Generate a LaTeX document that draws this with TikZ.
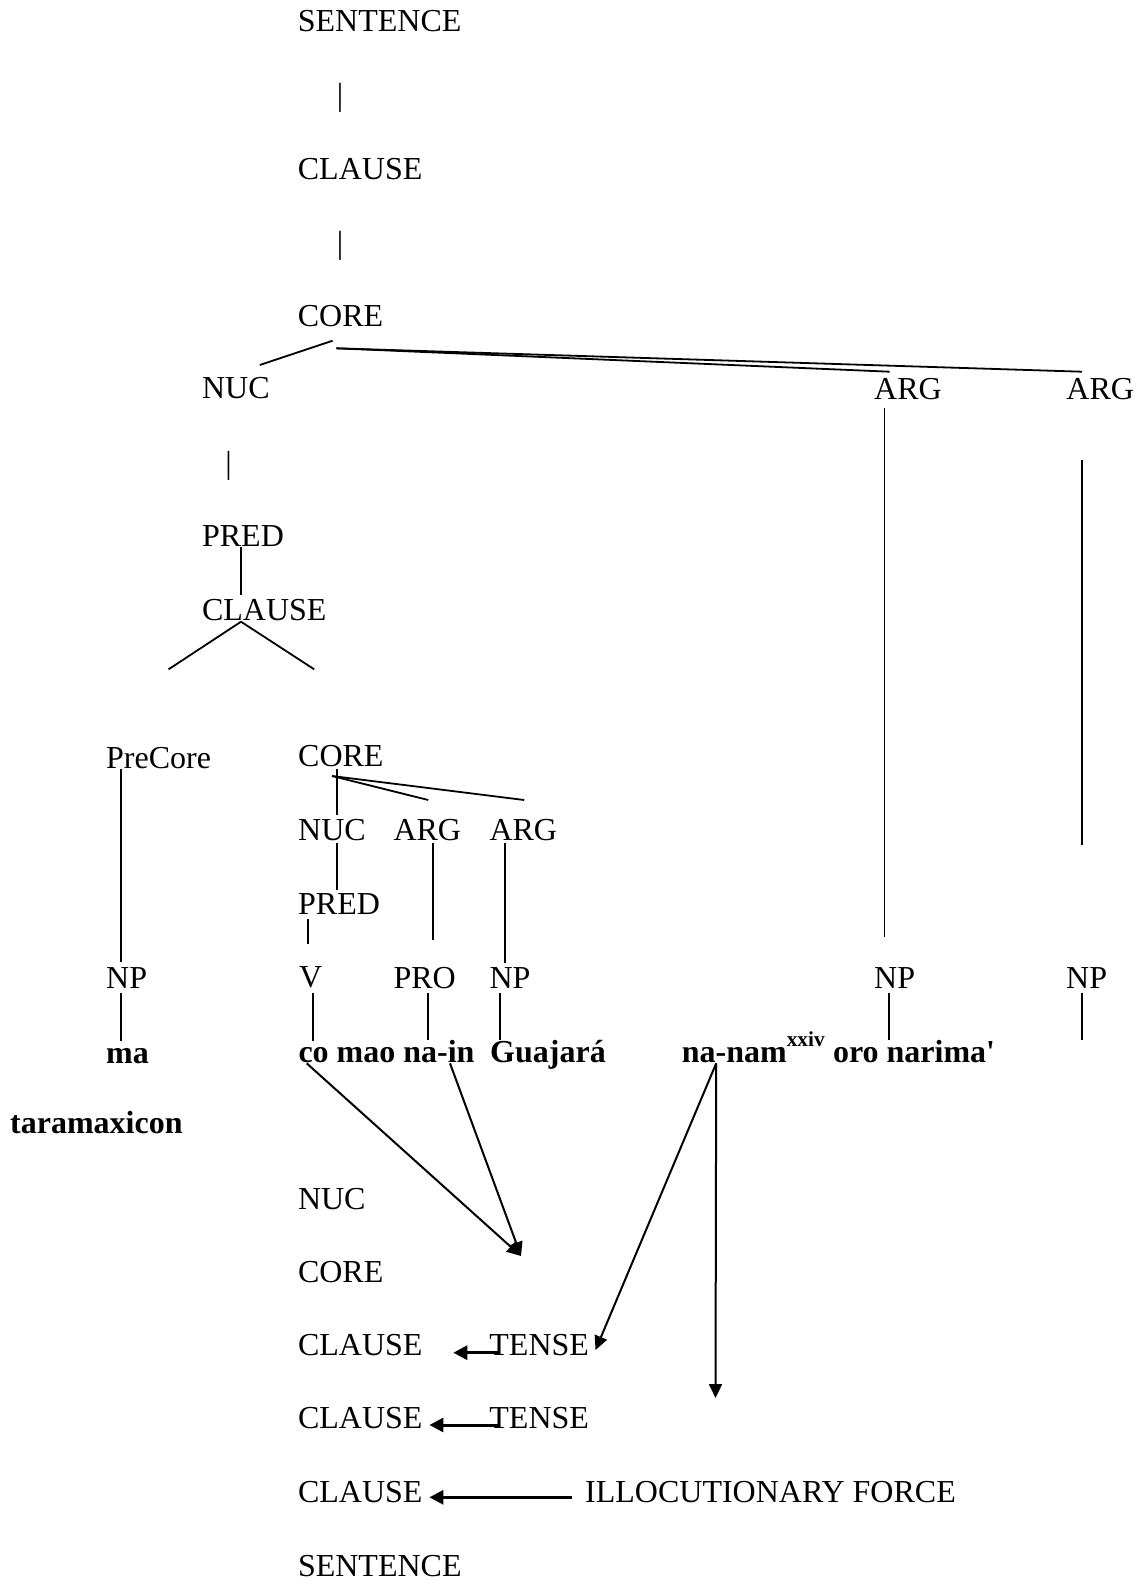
\documentclass[tikz,border=0pt]{standalone}
\usepackage{fontspec}
\setmainfont{Liberation Serif}
\usetikzlibrary{calc,arrows.meta}

\tikzset{
  lbl/.style={inner sep=0pt,anchor=base west,font=\fontsize{32}{38}\selectfont},
  wd/.style={lbl,font=\fontsize{32}{38}\selectfont\bfseries},
  bar/.style={lbl,anchor=base},
  tree/.style={line width=1.8pt},
  arr/.style={line width=2pt,-{Triangle[length=14pt,width=13pt]}},
  harr/.style={line width=3pt,-{Triangle[length=14pt,width=14pt]}}
}

\begin{document}
\begin{tikzpicture}[x=1pt,y=-1pt]
  \useasboundingbox (0,0) rectangle (1140,1585);
  % upper tree
  \node[lbl] (sent1) at (297.7,31.7) {SENTENCE};
  \node[bar] (bar1) at (340,105) {|};
  \node[lbl] (cla1) at (297.7,179.3) {CLAUSE};
  \node[bar] (bar2) at (340,253) {|};
  \node[lbl] (core1) at (297.7,326) {CORE};
  \node[lbl] (nuc1) at (201.9,398.3) {NUC};
  \node[lbl] (arg1) at (874,399) {ARG};
  \node[lbl] (arg2) at (1066.2,399) {ARG};
  \node[bar] (bar3) at (228.7,473) {|};
  \node[lbl] (pred1) at (201.9,546.7) {PRED};
  \node[lbl] (cla2) at (201.9,620) {CLAUSE};
  \coordinate (clL) at (168.6,669.3);
  \coordinate (clR) at (314.2,669.3);
  % embedded clause
  \node[lbl] (prec) at (106,768.3) {PreCore};
  \node[lbl] (core2) at (298,766.7) {CORE};
  \node[lbl] (nuc2) at (298,840) {NUC};
  \node[lbl] (arg3) at (393.3,840) {ARG};
  \node[lbl] (arg4) at (489.3,840) {ARG};
  \node[lbl] (pred2) at (298,914.3) {PRED};
  \node[lbl] (np1) at (106,988.3) {NP};
  \node[lbl] (v) at (299,987.7) {V};
  \node[lbl] (pro) at (393.3,988) {PRO};
  \node[lbl] (np2) at (489.3,988) {NP};
  \node[lbl] (np3) at (874,988.3) {NP};
  \node[lbl] (np4) at (1066,988.3) {NP};
  % words
  \node[wd] (ma) at (106,1063) {ma};
  \node[wd] (taram) at (10,1133.3) {taramaxicon};
  \node[wd] (co) at (298.3,1062) {co};
  \node[wd] (mao) at (336.5,1062) {mao};
  \node[wd] (nain) at (403.2,1062) {na-in};
  \node[wd] (guaj) at (490,1062) {Guajar\'a};
  \node[wd] (nanam) at (681.7,1062.3) {na-nam\raisebox{15.6pt}{\fontsize{21.3}{24}\selectfont xxiv}};
  \node[wd] (oro) at (832.8,1062.3) {oro narima\textquotesingle};
  \coordinate (npEnd) at (1081.7,1040);
  % operator projection
  \node[lbl] (nuc3) at (297.8,1209.3) {NUC};
  \node[lbl] (core3) at (297.8,1282.7) {CORE};
  \node[lbl] (cla3) at (297.8,1355) {CLAUSE};
  \node[lbl] (tense1) at (489.2,1355) {TENSE};
  \node[lbl] (cla4) at (297.8,1428.3) {CLAUSE};
  \node[lbl] (tense2) at (489.2,1428.3) {TENSE};
  \node[lbl] (cla5) at (297.8,1502.7) {CLAUSE};
  \node[lbl] (illoc) at (585,1502.7) {ILLOCUTIONARY FORCE};
  \node[lbl] (sent2) at (297.8,1576) {SENTENCE};
  \coordinate (tipA) at (521,1256);
  \coordinate (tipB) at (715.5,1398);

  \foreach \a/\ax/\ay/\b/\bx/\by in {
      core1/34.9/14.7/nuc1/57.9/-33.3, core1/38.7/22.3/arg1/15.7/-27.3,
      core1/38.7/22.3/arg2/15.8/-27.3, arg1/10.5/9.3/np3/10.5/-51,
      arg2/15.5/61/np4/15.7/-143.3, pred1/39.1/0/cla2/39.1/-25,
      cla2/39.1/1.7/clL/0/0, cla2/39.1/1.7/clR/0/0,
      prec/15/0.7/np1/15/-26.6, np1/15/4.4/ma/15/-22.3,
      core2/39.3/2.3/nuc2/39.3/-25, core2/34/9.3/arg3/35/-40,
      core2/34/9.3/arg4/35/-40, nuc2/39.3/3/pred2/39.3/-24.3,
      arg3/39.4/3/pro/39.4/-48, arg4/16/3/np2/16/-25,
      pred2/10/4.7/v/9/-43.7, v/14.3/5/co/15/-21.3,
      pro/34.4/4.7/nain/24.5/-22, np2/10.7/4.7/guaj/10/-22,
      np3/15/4.4/oro/56.2/-22.3, np4/15.7/4.4/npEnd/0/0}
    \draw[tree] ($(\a.base west)+(\ax,\ay)$) -- ($(\b.base west)+(\bx,\by)$);

  \draw[arr] ($(co.base west)+(8.4,1.3)$) -- (tipA);
  \draw[arr] ($(nain.base west)+(46.8,1.3)$) -- (tipA);
  \draw[arr] ($(nanam.base west)+(34.5,1)$) -- ($(tense1.base west)+(106.3,-5)$);
  \draw[arr] ($(nanam.base west)+(34.5,1)$) -- (tipB);
  \draw[harr] ($(tense1.base west)+(9.6,-2.3)$) -- ($(cla3.base west)+(155.5,-2.3)$);
  \draw[harr] ($(tense2.base west)+(9.6,-3.3)$) -- ($(cla4.base west)+(131.6,-3.3)$);
  \draw[harr] ($(illoc.base west)+(-13.5,-5.4)$) -- ($(cla5.base west)+(131.6,-5.4)$);
\end{tikzpicture}
\end{document}
